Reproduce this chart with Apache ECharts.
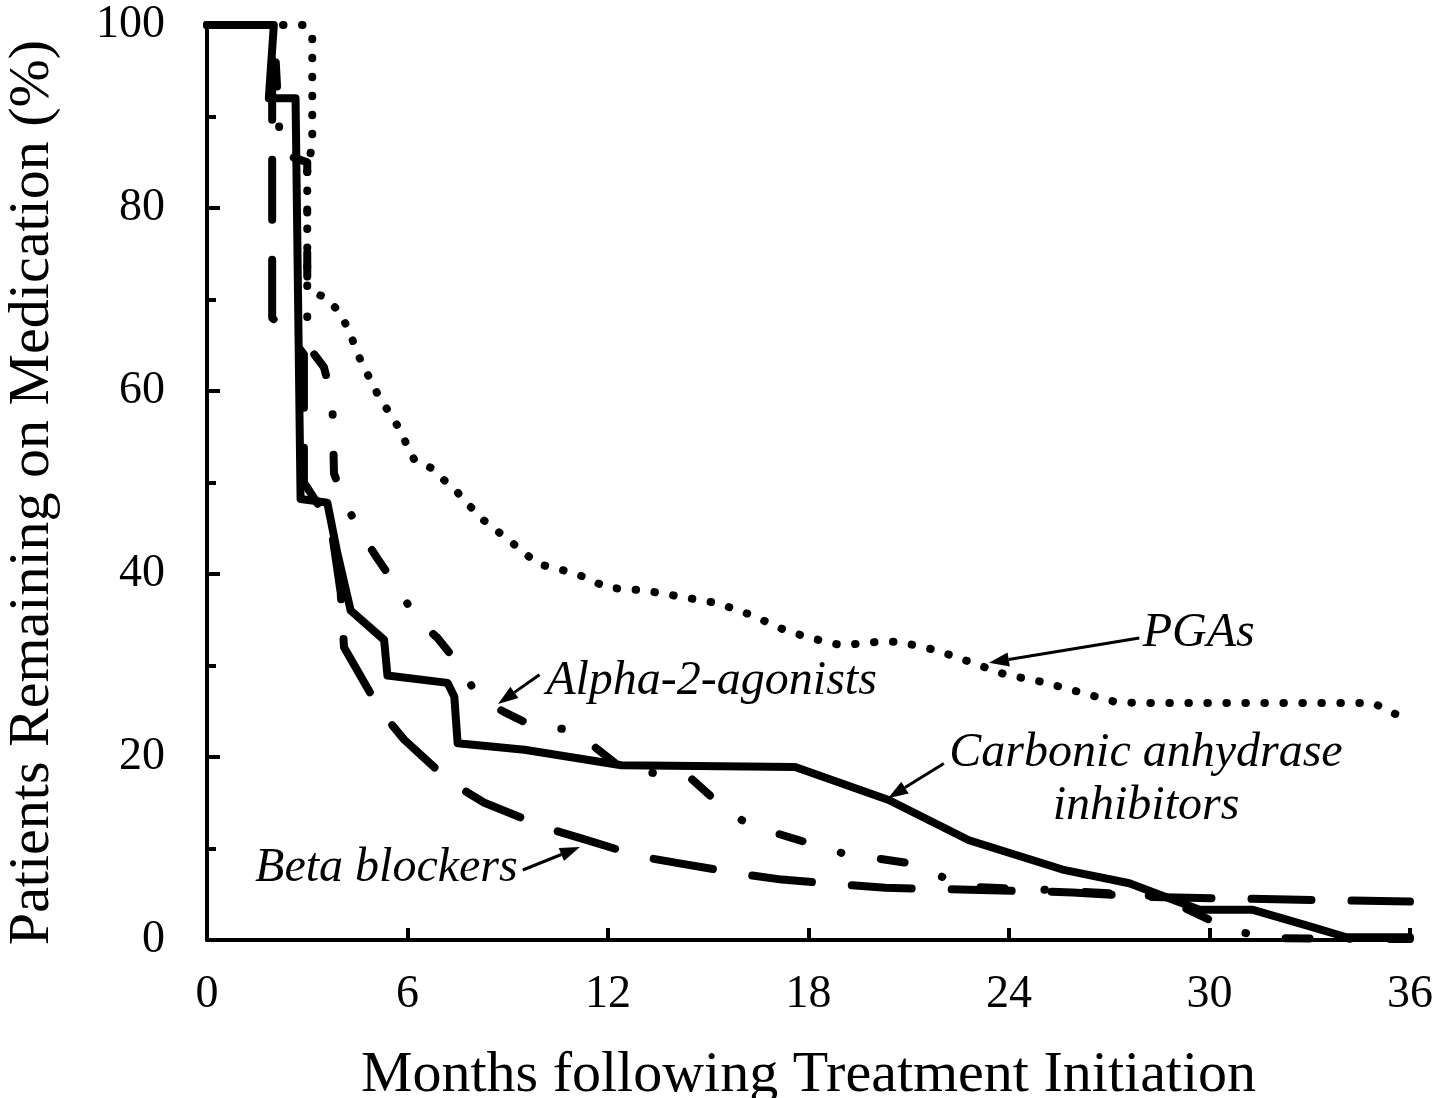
<!DOCTYPE html>
<html>
<head>
<meta charset="utf-8">
<script src="https://cdn.jsdelivr.net/npm/echarts@6.0.0/dist/echarts.min.js"></script>
<style>
  html, body { margin: 0; padding: 0; background: #fff; }
  #main { width: 1440px; height: 1098px; }
</style>
</head>
<body>
<div id="main"></div>
<script>
// months following initiation vs % remaining
var cai = [[0,100],[2.0,100],[1.85,92],[2.65,92],[2.8,48.2],[3.6,47.8],[3.9,42.3],[4.3,36],
  [5.3,32.8],[5.4,28.9],[7.2,28.1],[7.4,26.6],[7.5,21.5],[9.5,20.8],[12.4,19.1],[17.6,18.9],
  [20.4,15.3],[22.8,10.9],[25.6,7.7],[27.6,6.2],[29.7,3.3],[31.3,3.3],[32.9,1.6],[34.1,0.3],[36,0.3]];
var beta = [[0,100],[1.95,100],[1.95,68],[2.5,66],[2.9,64],[2.9,50],[3.7,45.5],[4.0,38],[4.1,32],
  [5.2,25],[5.9,21.9],[7.3,17.2],[8.3,15],[10.2,12.2],[11.2,11.1],[13,9.1],[14.1,8.4],[16.2,7.1],
  [17.2,6.6],[19.2,6.0],[20.3,5.7],[22.8,5.5],[25.9,5.2],[28.3,4.7],[29.7,4.6],[32.7,4.4],[36,4.2]];
var alpha = [[0,100],[2.0,100],[2.2,86],[3.0,85],[3.0,65],[3.5,62.6],[3.75,59],[3.8,51],[4.1,48],
  [4.6,44.5],[5.1,41.7],[5.7,38.5],[6.3,35],[6.9,33],[7.6,29.8],[8.1,26.6],[8.9,24.9],[9.8,23.3],
  [10.9,23],[11.6,21.1],[12.4,18.8],[14.5,17.6],[15.2,15.3],[16.0,13.1],[17.0,11.7],[18.0,10.6],
  [19.0,9.5],[19.9,9.0],[21.0,8.4],[22.0,6.9],[22.8,5.8],[25,5.5],[28.5,4.8],[30.0,2.2],[31.0,0.8],
  [32.0,0.2],[36,0.1]];
var pga = [[0,100],[2.9,100],[3.15,99],[3.15,87],[3.0,84],[3.0,71],[3.5,70.3],[3.9,68.9],[4.2,67],
  [4.6,63.3],[5.1,59.7],[5.7,56.2],[6.2,52.5],[6.7,51.6],[7.5,48.9],[8.2,46.1],[9.1,43.5],[9.9,41.1],
  [11.0,40.1],[12.0,38.5],[13.1,38.2],[14.2,37.5],[15.3,36.8],[16.3,35.5],[17.4,33.7],[18.5,32.6],
  [19.0,32.2],[20.1,32.6],[20.7,32.6],[21.8,31.7],[22.9,30.3],[23.9,29.0],[25.0,28.2],[26.1,27.1],
  [27.2,26.0],[28,25.9],[34.9,25.9],[35.5,24.8],[36,24.0]];

// annotation anchors (data coords)
var notes = [
  {text: 'PGAs', at: [28.0, 33.5], align: 'left'},
  {text: 'Alpha-2-agonists', at: [10.15, 28.3], align: 'left'},
  {text: 'Carbonic anhydrase', at: [28.1, 20.4], align: 'center'},
  {text: 'inhibitors', at: [28.1, 14.6], align: 'center'},
  {text: 'Beta blockers', at: [1.44, 7.8], align: 'left'}
];
var arrows = [
  {from: [27.9, 33.0], to: [23.4, 30.3]},
  {from: [9.95, 29.0], to: [8.71, 25.8]},
  {from: [22.05, 19.3], to: [20.38, 15.5]},
  {from: [9.45, 7.65], to: [11.16, 10.16]}
];

var serif = '"Liberation Serif", "Times New Roman", serif';
var chart = echarts.init(document.getElementById('main'));

function curve(name, data, type) {
  return {
    name: name,
    type: 'line',
    data: data,
    symbol: 'none',
    silent: true,
    lineStyle: { color: '#000', width: 8, type: type, cap: 'round', join: 'round' }
  };
}

var option = {
  animation: false,
  textStyle: { fontFamily: serif, color: '#000' },
  grid: { left: 207, right: 30, top: 25, bottom: 158, containLabel: false, outerBoundsMode: 'none' },
  xAxis: {
    type: 'value',
    min: 0, max: 36, interval: 6,
    name: 'Months following Treatment Initiation',
    nameLocation: 'middle',
    nameGap: 107,
    nameTextStyle: { fontSize: 58, fontFamily: serif, color: '#000' },
    axisLine: { show: true, lineStyle: { color: '#000', width: 4 } },
    axisTick: { show: true, inside: true, length: 12, lineStyle: { color: '#000', width: 4 } },
    axisLabel: { fontSize: 46, fontFamily: serif, color: '#000', margin: 32, showMinLabel: true, showMaxLabel: true },
    splitLine: { show: false }
  },
  yAxis: {
    type: 'value',
    min: 0, max: 100, interval: 20,
    name: 'Patients Remaining on Medication (%)',
    nameLocation: 'middle',
    nameGap: 145,
    nameTextStyle: { fontSize: 58, fontFamily: serif, color: '#000', padding: [0, 20, 0, 0] },
    axisLine: { show: true, lineStyle: { color: '#000', width: 4 } },
    axisTick: { show: true, inside: true, length: 13, lineStyle: { color: '#000', width: 4 } },
    minorTick: { show: true, splitNumber: 2, length: 9, lineStyle: { color: '#000', width: 4 } },
    axisLabel: { fontSize: 46, fontFamily: serif, color: '#000', margin: 42 },
    splitLine: { show: false },
    minorSplitLine: { show: false }
  },
  series: [
    curve('PGAs', pga, [0.5, 18.5]),
    curve('Beta blockers', beta, [60, 40]),
    curve('Alpha-2-agonists', alpha, [24, 40, 0.5, 40]),
    curve('Carbonic anhydrase inhibitors', cai, 'solid')
  ]
};
chart.setOption(option);

// labels and arrows, placed through the grid's own scales
var els = [];
notes.forEach(function (n) {
  var p = chart.convertToPixel('grid', n.at);
  els.push({
    type: 'text', x: p[0], y: p[1], silent: true,
    style: { text: n.text, fontSize: 48, fontStyle: 'italic', fontFamily: serif, fill: '#000', align: n.align, verticalAlign: 'middle' }
  });
});
arrows.forEach(function (a) {
  var p = chart.convertToPixel('grid', a.from);
  var q = chart.convertToPixel('grid', a.to);
  var dx = q[0] - p[0], dy = q[1] - p[1];
  var len = Math.sqrt(dx * dx + dy * dy);
  var ux = dx / len, uy = dy / len;
  var hl = 20, hw = 7;
  var bx = q[0] - ux * hl, by = q[1] - uy * hl;
  els.push({ type: 'line', silent: true, shape: { x1: p[0], y1: p[1], x2: bx, y2: by }, style: { stroke: '#000', lineWidth: 3 } });
  els.push({ type: 'polygon', silent: true,
    shape: { points: [[q[0], q[1]], [bx - uy * hw, by + ux * hw], [bx + uy * hw, by - ux * hw]] },
    style: { fill: '#000' } });
});
chart.setOption({ graphic: els });
</script>
</body>
</html>
